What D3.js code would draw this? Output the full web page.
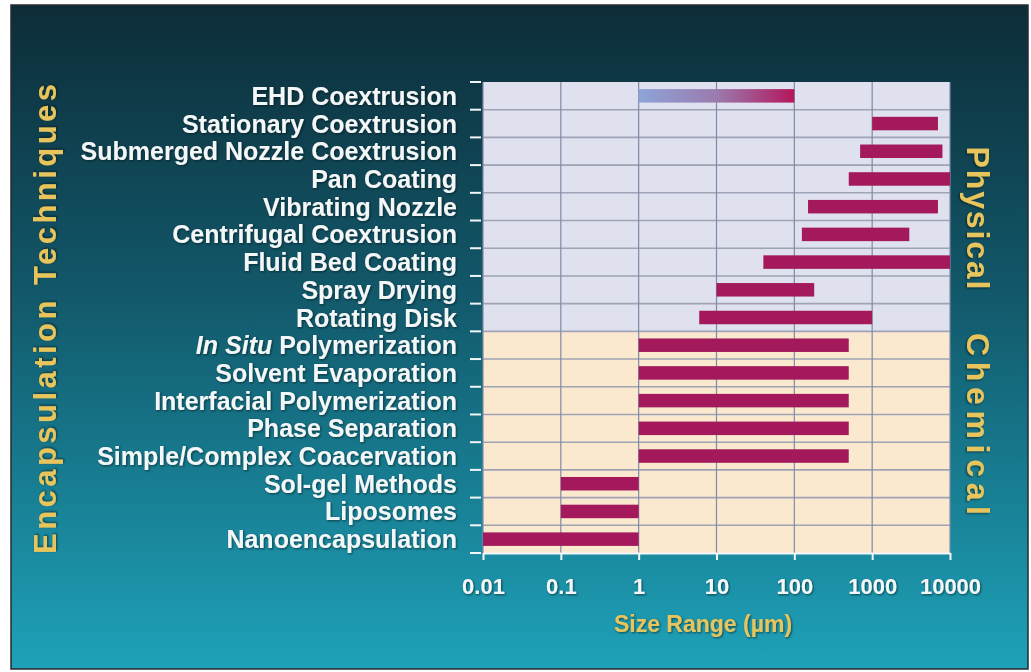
<!DOCTYPE html>
<html>
<head>
<meta charset="utf-8">
<script src="https://cdn.jsdelivr.net/npm/d3@7"></script>
<style>
  body { margin: 0; background: #fff; }
  text { font-family: "Liberation Sans", Arial, sans-serif; font-weight: bold; }
</style>
</head>
<body>
<svg id="chart" width="1031" height="672"></svg>
<script>
// techniques, top to bottom
const categories = [
  "EHD Coextrusion", "Stationary Coextrusion", "Submerged Nozzle Coextrusion",
  "Pan Coating", "Vibrating Nozzle", "Centrifugal Coextrusion", "Fluid Bed Coating",
  "Spray Drying", "Rotating Disk", "In Situ Polymerization", "Solvent Evaporation",
  "Interfacial Polymerization", "Phase Separation", "Simple/Complex Coacervation",
  "Sol-gel Methods", "Liposomes", "Nanoencapsulation"
];
// size range in micrometres
const rangeStart = [1, 1000, 700, 500, 150, 125, 40, 10, 6, 1, 1, 1, 1, 1, 0.1, 0.1, 0.01];
const rangeEnd = [100, 7000, 8000, 10000, 7000, 3000, 10000, 180, 1000, 500, 500, 500, 500, 500, 1, 1, 1];
const groupNames = ["Physical", "Chemical"];
const groupCounts = [9, 8];
const xTicks = [0.01, 0.1, 1, 10, 100, 1000, 10000];
const xTickLabels = ["0.01", "0.1", "1", "10", "100", "1000", "10000"];

const gold = "#e8c45c";
const svg = d3.select("#chart");
const defs = svg.append("defs");

let bg = defs.append("linearGradient").attr("id", "bg").attr("x1", 0).attr("y1", 0).attr("x2", 0).attr("y2", 1);
bg.append("stop").attr("offset", "0%").attr("stop-color", "#0d2c38");
bg.append("stop").attr("offset", "45%").attr("stop-color", "#125a6c");
bg.append("stop").attr("offset", "100%").attr("stop-color", "#1ea2b9");

let shadow = defs.append("filter").attr("id", "shadow").attr("x", "-10%").attr("y", "-30%").attr("width", "120%").attr("height", "160%");
shadow.append("feDropShadow").attr("dx", 1).attr("dy", 1).attr("stdDeviation", 1)
  .attr("flood-color", "#001015").attr("flood-opacity", 0.6);

// frame
svg.append("rect").attr("x", 11).attr("y", 5).attr("width", 1017).attr("height", 664)
  .attr("fill", "url(#bg)").attr("stroke", "#2a2a2a").attr("stroke-width", 1.5);

const x = d3.scaleLog().domain([0.01, 10000]).range([483, 950]);
const y = d3.scaleBand().domain(categories).range([82, 553]);
const bh = 13.5;

// group backgrounds
const groupFill = { "Physical": "#dfe1ef", "Chemical": "#fbe9cf" };
let idx = 0;
groupNames.forEach((g, i) => {
  let first = categories[idx], last = categories[idx + groupCounts[i] - 1];
  svg.append("rect")
    .attr("x", x.range()[0]).attr("width", x.range()[1] - x.range()[0])
    .attr("y", y(first)).attr("height", y(last) + y.bandwidth() - y(first))
    .attr("fill", groupFill[g]);
  idx += groupCounts[i];
});

// grid
const boundaries = categories.map(c => y(c)).concat([y.range()[1]]);
svg.append("g").selectAll("line").data(boundaries.slice(1, -1)).join("line")
  .attr("x1", x.range()[0]).attr("x2", x.range()[1])
  .attr("y1", d => d).attr("y2", d => d)
  .attr("stroke", "#9ea3b6").attr("stroke-width", 1.6);
svg.append("g").selectAll("line").data(xTicks).join("line")
  .attr("x1", d => x(d)).attr("x2", d => x(d))
  .attr("y1", y.range()[0]).attr("y2", y.range()[1])
  .attr("stroke", "#7f8aa6").attr("stroke-width", 1.2);

// EHD gradient bar
let ehd = defs.append("linearGradient").attr("id", "ehd").attr("gradientUnits", "userSpaceOnUse")
  .attr("x1", x(rangeStart[0])).attr("x2", x(rangeEnd[0])).attr("y1", 0).attr("y2", 0);
ehd.append("stop").attr("offset", "0%").attr("stop-color", "#8ea4d8");
ehd.append("stop").attr("offset", "50%").attr("stop-color", "#9a7bae");
ehd.append("stop").attr("offset", "100%").attr("stop-color", "#b3175c");

svg.append("g").selectAll("rect").data(categories).join("rect")
  .attr("x", (d, i) => x(rangeStart[i]))
  .attr("width", (d, i) => x(rangeEnd[i]) - x(rangeStart[i]))
  .attr("y", d => y(d) + (y.bandwidth() - bh) / 2)
  .attr("height", bh)
  .attr("fill", (d, i) => i === 0 ? "url(#ehd)" : "#a3195b");

// left boundary ticks
svg.append("g").selectAll("line").data(boundaries).join("line")
  .attr("x1", 470).attr("x2", 481)
  .attr("y1", d => d).attr("y2", d => d)
  .attr("stroke", "#f2f6f8").attr("stroke-width", 2);

// category labels
let labels = svg.append("g").attr("filter", "url(#shadow)").selectAll("text").data(categories).join("text")
  .attr("x", 457).attr("y", d => y(d) + y.bandwidth() / 2 + 9)
  .attr("text-anchor", "end").attr("fill", "#f4f7f8").attr("font-size", 25);
labels.each(function(d) {
  let t = d3.select(this);
  if (d.startsWith("In Situ")) {
    t.append("tspan").attr("font-style", "italic").text("In Situ");
    t.append("tspan").text(d.slice(7));
  } else {
    t.text(d);
  }
});

// x axis
let xAxis = svg.append("g").attr("transform", `translate(0,${y.range()[1]})`)
  .call(d3.axisBottom(x).tickValues(xTicks).tickFormat((d, i) => xTickLabels[i]).tickSize(7).tickSizeOuter(0).tickPadding(18));
xAxis.select(".domain").attr("stroke", "#f2f6f8").attr("stroke-width", 2);
xAxis.selectAll(".tick line").attr("stroke", "#f2f6f8").attr("stroke-width", 2);
xAxis.selectAll(".tick text").attr("fill", "#f4f7f8").attr("font-size", 22)
  .attr("font-family", "'Liberation Sans', Arial, sans-serif").attr("font-weight", "bold")
  .attr("filter", "url(#shadow)");

svg.append("text").attr("x", 703).attr("y", 632).attr("text-anchor", "middle")
  .attr("fill", gold).attr("font-size", 23).attr("filter", "url(#shadow)")
  .text("Size Range (\u00b5m)");

// side titles
svg.append("text").attr("transform", "translate(56,319) rotate(-90)")
  .attr("text-anchor", "middle").attr("fill", gold).attr("font-size", 31)
  .attr("textLength", 470).attr("lengthAdjust", "spacing").attr("filter", "url(#shadow)")
  .text("Encapsulation Techniques");

const sideY = [218, 424];
const sideLen = [143, 182];
groupNames.forEach((g, i) => {
  svg.append("text").attr("transform", `translate(967,${sideY[i]}) rotate(90)`)
    .attr("text-anchor", "middle").attr("fill", gold).attr("font-size", 32)
    .attr("textLength", sideLen[i]).attr("lengthAdjust", "spacing").attr("filter", "url(#shadow)")
    .text(g);
});
</script>
</body>
</html>
